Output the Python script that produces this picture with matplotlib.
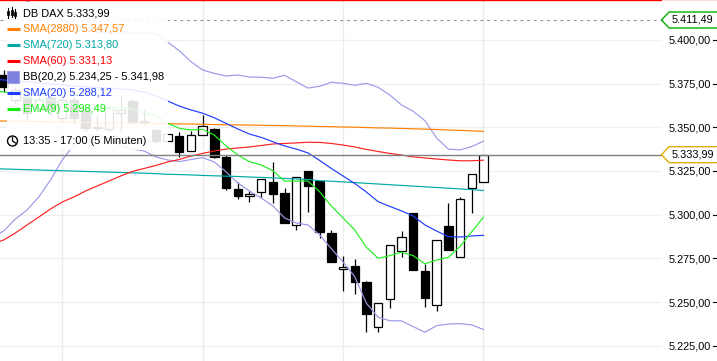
import matplotlib
matplotlib.use('Agg')
import matplotlib.pyplot as plt
from matplotlib.patches import Rectangle, Polygon, Circle
from matplotlib.transforms import blended_transform_factory

plt.rcParams['font.family'] = ['Liberation Sans', 'DejaVu Sans']

# Kerzen (5 Minuten)
opens = [5379.9, 5365.6, 5367.3, 5361.0, 5366.7, 5355.3, 5365.6, 5359.9, 5349.55, 5349.0, 5358.1, 5365.0, 5353.56, 5348.4,
         5342.1, 5345.0, 5336.6, 5345.4, 5349.0, 5332.8, 5314.7, 5310.5, 5313.1, 5318.7, 5312.4, 5294.2, 5325.0, 5319.4,
         5289.3, 5268.7, 5270.6, 5261.5, 5235.6, 5251.6, 5279.0, 5300.9, 5267.8, 5248.5, 5293.5, 5276.0, 5315.1, 5318.4]
highs = [5382.7, 5373.0, 5370.1, 5367.0, 5369.0, 5368.0, 5367.0, 5362.0, 5357.0, 5362.0, 5367.9, 5366.0, 5359.9, 5349.0,
         5346.1, 5347.4, 5348.0, 5357.2, 5349.8, 5334.1, 5318.8, 5313.7, 5320.2, 5330.3, 5315.1, 5321.3, 5325.0, 5319.4,
         5291.2, 5276.5, 5274.4, 5262.0, 5249.3, 5282.5, 5290.6, 5300.9, 5271.8, 5285.3, 5306.5, 5309.9, 5323.1, 5333.99]
lows = [5370.1, 5363.0, 5354.1, 5359.0, 5357.0, 5353.0, 5352.0, 5348.0, 5347.8, 5347.8, 5347.8, 5352.0, 5352.0, 5341.0,
        5342.1, 5333.1, 5336.6, 5345.4, 5332.6, 5314.3, 5308.8, 5307.1, 5310.3, 5306.5, 5295.4, 5291.2, 5301.3, 5286.6,
        5273.1, 5256.3, 5254.4, 5233.0, 5233.0, 5246.4, 5275.6, 5268.5, 5247.0, 5245.0, 5279.9, 5276.0, 5300.8, 5318.4]
closes = [5373.0, 5371.3, 5358.1, 5365.6, 5359.9, 5365.6, 5355.3, 5349.6, 5350.4, 5361.0, 5359.9, 5353.0, 5352.4, 5342.1,
          5346.1, 5336.0, 5345.5, 5350.5, 5333.1, 5315.2, 5310.7, 5311.6, 5320.2, 5311.8, 5295.4, 5321.3, 5316.5, 5290.2,
          5273.1, 5269.9, 5261.6, 5243.3, 5249.3, 5282.5, 5287.0, 5268.5, 5252.5, 5285.3, 5279.9, 5308.8, 5323.1, 5333.99]

# Indikatoren (beginnen eine Kerze vor dem sichtbaren Bereich)
sma2880 = [5353.6, 5353.5, 5353.4, 5353.3, 5353.2, 5353.1, 5353.0, 5352.8, 5352.7, 5352.6, 5352.5, 5352.4, 5352.3, 5352.2, 5352.1,
           5352.0, 5351.9, 5351.8, 5351.7, 5351.5, 5351.4, 5351.3, 5351.2, 5351.1, 5351.0, 5350.9, 5350.7, 5350.6, 5350.4,
           5350.3, 5350.1, 5350.0, 5349.8, 5349.6, 5349.5, 5349.3, 5349.1, 5348.9, 5348.7, 5348.4, 5348.2, 5347.9, 5347.57]
sma720 = [5326.3, 5326.1, 5325.9, 5325.7, 5325.5, 5325.3, 5325.1, 5324.9, 5324.7, 5324.5, 5324.3, 5324.1, 5323.9, 5323.7, 5323.4,
          5323.1, 5322.9, 5322.7, 5322.4, 5322.2, 5322.0, 5321.8, 5321.5, 5321.3, 5321.0, 5320.7, 5320.4, 5320.1, 5319.4,
          5319.1, 5318.7, 5318.3, 5317.9, 5317.5, 5317.1, 5316.7, 5316.3, 5315.9, 5315.5, 5315.1, 5314.7, 5314.3, 5313.8]
sma60 = [5283.0, 5285.5, 5289.5, 5294.1, 5298.6, 5303.2, 5307.2, 5310.1, 5313.5, 5316.4, 5319.2, 5322.1, 5324.7, 5326.4, 5328.1,
         5330.1, 5331.5, 5333.5, 5335.0, 5336.4, 5337.5, 5338.1, 5338.7, 5339.5, 5340.4, 5340.7, 5341.0, 5341.4, 5341.3,
         5340.7, 5339.8, 5338.7, 5337.3, 5336.1, 5335.0, 5334.1, 5333.0, 5332.4, 5331.8, 5331.25, 5330.8, 5330.8, 5331.13]
bb_upper = [5433.0, 5429.6, 5426.2, 5422.2, 5418.2, 5414.8, 5411.3, 5408.5, 5406.2, 5404.5, 5403.9, 5403.9, 5403.9, 5403.9, 5403.3,
            5398.7, 5393.8, 5387.5, 5382.7, 5380.8, 5379.3, 5379.9, 5378.7, 5378.6, 5378.0, 5379.7, 5376.0, 5372.4, 5373.4,
            5375.7, 5375.1, 5374.0, 5375.1, 5372.8, 5368.4, 5362.7, 5359.1, 5353.7, 5343.8, 5337.5, 5337.0, 5338.9, 5341.98]
bb_lower = [5287.0, 5290.6, 5297.5, 5302.65, 5310.1, 5319.8, 5331.25, 5339.8, 5344.4, 5346.1, 5343.8, 5339.3, 5337.5, 5336.4, 5333.0,
            5331.25, 5330.3, 5331.5, 5332.6, 5330.1, 5324.5, 5318.1, 5313.5, 5309.5, 5305.0, 5298.1, 5295.2, 5294.1, 5288.4,
            5280.5, 5272.9, 5264.5, 5249.3, 5241.3, 5239.3, 5239.2, 5235.9, 5232.7, 5236.5, 5237.4, 5237.6, 5236.9, 5234.25]
sma20 = [5377.5, 5377.0, 5376.4, 5375.9, 5375.3, 5374.7, 5374.2, 5373.6, 5373.0, 5372.7, 5372.4, 5371.9, 5371.3, 5370.1, 5367.9,
         5365.0, 5362.1, 5359.9, 5358.0, 5355.4, 5352.2, 5349.0, 5346.1, 5344.2, 5341.7, 5339.3, 5337.5, 5335.3, 5331.0,
         5326.4, 5322.1, 5317.8, 5312.9, 5307.4, 5304.7, 5302.1, 5299.2, 5294.1, 5290.6, 5287.4, 5287.2, 5287.8, 5288.12]
ema9 = [5371.0, 5370.1, 5369.0, 5366.7, 5365.6, 5365.6, 5363.9, 5363.3, 5361.0, 5360.4, 5361.0, 5361.0, 5360.4, 5358.1, 5356.4,
        5352.2, 5349.4, 5348.4, 5348.8, 5345.5, 5339.3, 5334.1, 5330.3, 5328.4, 5325.1, 5319.2, 5319.2, 5319.2, 5313.1,
        5304.9, 5298.1, 5291.2, 5281.3, 5275.0, 5276.5, 5278.5, 5276.5, 5271.8, 5274.0, 5275.6, 5281.7, 5290.2, 5298.49]

y_ticks = [5400, 5375, 5350, 5325, 5300, 5275, 5250, 5225]
y_labels = ['5.400,00', '5.375,00', '5.350,00', '5.325,00', '5.300,00', '5.275,00', '5.250,00', '5.225,00']
grid_x = [5, 17, 29, 41]
last_price = 5333.99
high_price = 5411.49
top_line = 5422.5

legend_rows = [
    ('DB DAX 5.333,99', 'black', None, 13),
    ('SMA(2880) 5.347,57', '#ff8000', '#ff8000', 29),
    ('SMA(720) 5.313,80', '#00a8a8', '#00a8a8', 45),
    ('SMA(60) 5.331,13', '#ff0000', '#ff0000', 61),
    ('BB(20,2) 5.234,25 - 5.341,98', 'black', None, 77),
    ('SMA(20) 5.288,12', '#1e3cff', '#1e3cff', 93),
    ('EMA(9) 5.298,49', '#10f010', '#10f010', 109),
]

fig = plt.figure(figsize=(7.17, 3.61), dpi=100)
ax = fig.add_axes([0, 0, 662 / 717, 1])
ax.set_xlim(-0.316, 56.26)
ax.set_ylim(5216.25, 5422.77)
for s in ax.spines.values():
    s.set_visible(False)

# Overlay in Pixeln fuer Legende und Preisschilder
ov = fig.add_axes([0, 0, 1, 1], zorder=5)
ov.set_xlim(0, 717)
ov.set_ylim(361, 0)
ov.axis('off')
ov.patch.set_alpha(0)

# Gitter
ax.set_xticks([])
ax.set_yticks(y_ticks)
ax.set_yticklabels(y_labels, fontsize=7.8)
ax.yaxis.tick_right()
ax.tick_params(axis='y', length=0, pad=5)
for t in y_ticks:
    ax.axhline(t, color='#f0f0f0', lw=1, zorder=0)
for g in grid_x:
    ax.axvline(g, color='#ececec', lw=1, zorder=0)

# Tick-Striche rechts neben den Labels
tr = blended_transform_factory(ov.transData, ax.transData)
for t in y_ticks:
    ax.plot([712.5, 716], [t, t], color='black', lw=0.8, transform=tr, clip_on=False, zorder=6)

# Kerzen
for i in range(len(opens)):
    ax.vlines(i, lows[i], highs[i], color='black', lw=0.9, zorder=2)
    bottom = min(opens[i], closes[i])
    height = abs(closes[i] - opens[i])
    face = 'black' if closes[i] < opens[i] else 'white'
    ax.add_patch(Rectangle((i - 0.36, bottom), 0.72, height, facecolor=face, edgecolor='black', lw=0.9, zorder=2.1))

# Linien
x = list(range(-1, len(opens)))
ax.plot(x, bb_upper, color='#9a9ae8', lw=0.85, zorder=3)
ax.plot(x, bb_lower, color='#9a9ae8', lw=0.85, zorder=3)
ax.plot(x, sma2880, color='#ff8000', lw=0.85, zorder=3)
ax.plot(x, sma720, color='#00a8a8', lw=0.85, zorder=3)
ax.plot(x, sma60, color='#ff2020', lw=0.85, zorder=3)
ax.plot(x, sma20, color='#1e3cff', lw=0.85, zorder=3)
ax.plot(x, ema9, color='#20f020', lw=0.85, zorder=3)

# Horizontale Linien
ax.axhline(last_price, color='#808080', lw=1, zorder=3.5)
ax.axhline(high_price, color='#909090', lw=0.8, dashes=(2.5, 3.5), zorder=3.5)
ax.axhline(top_line, color='#ff0000', lw=1, zorder=3.5)
ov.add_patch(Rectangle((662, 0), 55, 1, facecolor='#ffd8d8', edgecolor='none'))

# halbtransparenter Legendenhintergrund
ov.add_patch(Rectangle((7, 1.5), 161, 148.5, facecolor='white', edgecolor='none', alpha=0.89, zorder=1))

for label, col, sample, row_y in legend_rows:
    ov.text(23, row_y, label, color=col, fontsize=7.9, va='center', ha='left', zorder=3)
    if sample:
        ov.plot([7, 20], [row_y, row_y], color=sample, lw=2.2, solid_capstyle='butt', zorder=3)

# Symbol BB
ov.add_patch(Rectangle((7, 71), 12, 12, facecolor='#7f7fe0', edgecolor='#a0a0e8', lw=0.8, zorder=3))

# Symbol Kerzen
for cx, top, bot, wt, wb in [(8, 11, 15, 8, 18), (11.5, 10, 15, 7, 17), (15, 12, 16, 9, 18)]:
    ov.plot([cx, cx], [wt, wb], color='black', lw=0.8, zorder=3)
    ov.add_patch(Rectangle((cx - 1, top), 2, bot - top, facecolor='black', edgecolor='black', lw=0.5, zorder=3))

# Symbol Uhr
ov.add_patch(Circle((12.5, 141), 5, facecolor='white', edgecolor='black', lw=1, zorder=3))
ov.plot([12.5, 12.5, 15.5], [137.5, 141, 143], color='black', lw=0.9, zorder=3.1)
ov.text(23, 141, '13:35 - 17:00 (5 Minuten)', color='black', fontsize=7.9, va='center', ha='left', zorder=3)

# Preisschilder
for y_mid, col, label in [(20, '#00b000', '5.411,49'), (154.7, '#e0b000', '5.333,99')]:
    pts = [(717, y_mid - 8), (669, y_mid - 8), (661.5, y_mid), (669, y_mid + 8), (717, y_mid + 8)]
    ov.add_patch(Polygon(pts, closed=False, facecolor='white', edgecolor=col, lw=1, zorder=3))
    ov.text(671.5, y_mid, label, color='black', fontsize=7.8, va='center', ha='left', zorder=4)

fig.savefig('out.png', dpi=100)
